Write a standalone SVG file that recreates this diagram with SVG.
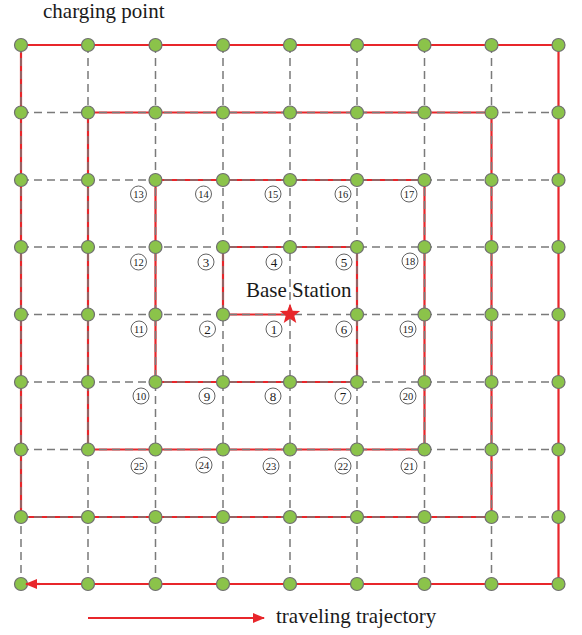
<svg xmlns="http://www.w3.org/2000/svg" width="582" height="635" viewBox="0 0 582 635">
<style>
.grid{stroke:#7a7a7a;stroke-width:1.5;stroke-dasharray:8 5;fill:none}
.traj{stroke:#e8262b;stroke-width:2.2;fill:none;stroke-linejoin:miter}
.node{fill:#8bc34a;stroke:#6f6f6f;stroke-width:1.2}
.lbl{font-family:"Liberation Serif","Times New Roman",serif;fill:#1a1a1a}
.cn circle{fill:#fff;stroke:#3a3a3a;stroke-width:0.8}
.cn text{font-family:"Liberation Serif","Times New Roman",serif;fill:#1a1a1a;text-anchor:middle}
.d1{font-size:13px}
.d2{font-size:10.5px}
</style>
<defs>
<marker id="ah" markerWidth="12" markerHeight="10" refX="11" refY="5" orient="auto" markerUnits="userSpaceOnUse">
<path d="M0,0 L12,5 L0,10 Z" fill="#e8262b"/>
</marker>
</defs>
<rect width="582" height="635" fill="#fff"/>
<text class="lbl" x="43" y="18" font-size="21">charging point</text>
<g id="connectors">
<path class="traj" d="M290,314.5 H223 V247 H357 V382 H155.5 V180 H424.5 V449.5 H88 V112.5 H491.5 V517 H21 V45 H558.5 V584 H30"/>
<g id="grid">
<path class="grid" d="M21,45 V584 M88,45 V584 M155.5,45 V584 M223,45 V584 M290,45 V584 M357,45 V584 M424.5,45 V584 M491.5,45 V584"/>
<path class="grid" d="M21,112.5 H558.5 M21,180 H558.5 M21,247 H558.5 M21,314.5 H558.5 M21,382 H558.5 M21,449.5 H558.5 M21,517 H558.5"/>
</g>
</g>
<g id="nodes">
<g id="n0_0"><circle class="node" cx="21" cy="45" r="6.5"/></g>
<g id="n1_0"><circle class="node" cx="88" cy="45" r="6.5"/></g>
<g id="n2_0"><circle class="node" cx="155.5" cy="45" r="6.5"/></g>
<g id="n3_0"><circle class="node" cx="223" cy="45" r="6.5"/></g>
<g id="n4_0"><circle class="node" cx="290" cy="45" r="6.5"/></g>
<g id="n5_0"><circle class="node" cx="357" cy="45" r="6.5"/></g>
<g id="n6_0"><circle class="node" cx="424.5" cy="45" r="6.5"/></g>
<g id="n7_0"><circle class="node" cx="491.5" cy="45" r="6.5"/></g>
<g id="n8_0"><circle class="node" cx="558.5" cy="45" r="6.5"/></g>
<g id="n0_1"><circle class="node" cx="21" cy="112.5" r="6.5"/></g>
<g id="n1_1"><circle class="node" cx="88" cy="112.5" r="6.5"/></g>
<g id="n2_1"><circle class="node" cx="155.5" cy="112.5" r="6.5"/></g>
<g id="n3_1"><circle class="node" cx="223" cy="112.5" r="6.5"/></g>
<g id="n4_1"><circle class="node" cx="290" cy="112.5" r="6.5"/></g>
<g id="n5_1"><circle class="node" cx="357" cy="112.5" r="6.5"/></g>
<g id="n6_1"><circle class="node" cx="424.5" cy="112.5" r="6.5"/></g>
<g id="n7_1"><circle class="node" cx="491.5" cy="112.5" r="6.5"/></g>
<g id="n8_1"><circle class="node" cx="558.5" cy="112.5" r="6.5"/></g>
<g id="n0_2"><circle class="node" cx="21" cy="180" r="6.5"/></g>
<g id="n1_2"><circle class="node" cx="88" cy="180" r="6.5"/></g>
<g id="n2_2"><circle class="node" cx="155.5" cy="180" r="6.5"/></g>
<g id="n3_2"><circle class="node" cx="223" cy="180" r="6.5"/></g>
<g id="n4_2"><circle class="node" cx="290" cy="180" r="6.5"/></g>
<g id="n5_2"><circle class="node" cx="357" cy="180" r="6.5"/></g>
<g id="n6_2"><circle class="node" cx="424.5" cy="180" r="6.5"/></g>
<g id="n7_2"><circle class="node" cx="491.5" cy="180" r="6.5"/></g>
<g id="n8_2"><circle class="node" cx="558.5" cy="180" r="6.5"/></g>
<g id="n0_3"><circle class="node" cx="21" cy="247" r="6.5"/></g>
<g id="n1_3"><circle class="node" cx="88" cy="247" r="6.5"/></g>
<g id="n2_3"><circle class="node" cx="155.5" cy="247" r="6.5"/></g>
<g id="n3_3"><circle class="node" cx="223" cy="247" r="6.5"/></g>
<g id="n4_3"><circle class="node" cx="290" cy="247" r="6.5"/></g>
<g id="n5_3"><circle class="node" cx="357" cy="247" r="6.5"/></g>
<g id="n6_3"><circle class="node" cx="424.5" cy="247" r="6.5"/></g>
<g id="n7_3"><circle class="node" cx="491.5" cy="247" r="6.5"/></g>
<g id="n8_3"><circle class="node" cx="558.5" cy="247" r="6.5"/></g>
<g id="n0_4"><circle class="node" cx="21" cy="314.5" r="6.5"/></g>
<g id="n1_4"><circle class="node" cx="88" cy="314.5" r="6.5"/></g>
<g id="n2_4"><circle class="node" cx="155.5" cy="314.5" r="6.5"/></g>
<g id="n3_4"><circle class="node" cx="223" cy="314.5" r="6.5"/></g>
<g id="base_station"><polygon points="290,303.5 292.7,310.7 300.2,311 294.3,315.7 296.3,323 290,318.8 283.7,323 285.7,315.7 279.8,311 287.3,310.7" fill="#e8262b"/><text class="lbl" x="246" y="297" font-size="21">Base Station</text></g>
<g id="n5_4"><circle class="node" cx="357" cy="314.5" r="6.5"/></g>
<g id="n6_4"><circle class="node" cx="424.5" cy="314.5" r="6.5"/></g>
<g id="n7_4"><circle class="node" cx="491.5" cy="314.5" r="6.5"/></g>
<g id="n8_4"><circle class="node" cx="558.5" cy="314.5" r="6.5"/></g>
<g id="n0_5"><circle class="node" cx="21" cy="382" r="6.5"/></g>
<g id="n1_5"><circle class="node" cx="88" cy="382" r="6.5"/></g>
<g id="n2_5"><circle class="node" cx="155.5" cy="382" r="6.5"/></g>
<g id="n3_5"><circle class="node" cx="223" cy="382" r="6.5"/></g>
<g id="n4_5"><circle class="node" cx="290" cy="382" r="6.5"/></g>
<g id="n5_5"><circle class="node" cx="357" cy="382" r="6.5"/></g>
<g id="n6_5"><circle class="node" cx="424.5" cy="382" r="6.5"/></g>
<g id="n7_5"><circle class="node" cx="491.5" cy="382" r="6.5"/></g>
<g id="n8_5"><circle class="node" cx="558.5" cy="382" r="6.5"/></g>
<g id="n0_6"><circle class="node" cx="21" cy="449.5" r="6.5"/></g>
<g id="n1_6"><circle class="node" cx="88" cy="449.5" r="6.5"/></g>
<g id="n2_6"><circle class="node" cx="155.5" cy="449.5" r="6.5"/></g>
<g id="n3_6"><circle class="node" cx="223" cy="449.5" r="6.5"/></g>
<g id="n4_6"><circle class="node" cx="290" cy="449.5" r="6.5"/></g>
<g id="n5_6"><circle class="node" cx="357" cy="449.5" r="6.5"/></g>
<g id="n6_6"><circle class="node" cx="424.5" cy="449.5" r="6.5"/></g>
<g id="n7_6"><circle class="node" cx="491.5" cy="449.5" r="6.5"/></g>
<g id="n8_6"><circle class="node" cx="558.5" cy="449.5" r="6.5"/></g>
<g id="n0_7"><circle class="node" cx="21" cy="517" r="6.5"/></g>
<g id="n1_7"><circle class="node" cx="88" cy="517" r="6.5"/></g>
<g id="n2_7"><circle class="node" cx="155.5" cy="517" r="6.5"/></g>
<g id="n3_7"><circle class="node" cx="223" cy="517" r="6.5"/></g>
<g id="n4_7"><circle class="node" cx="290" cy="517" r="6.5"/></g>
<g id="n5_7"><circle class="node" cx="357" cy="517" r="6.5"/></g>
<g id="n6_7"><circle class="node" cx="424.5" cy="517" r="6.5"/></g>
<g id="n7_7"><circle class="node" cx="491.5" cy="517" r="6.5"/></g>
<g id="n8_7"><circle class="node" cx="558.5" cy="517" r="6.5"/></g>
<g id="n0_8"><circle class="node" cx="21" cy="584" r="6.5"/></g>
<g id="n1_8"><circle class="node" cx="88" cy="584" r="6.5"/></g>
<g id="n2_8"><circle class="node" cx="155.5" cy="584" r="6.5"/></g>
<g id="n3_8"><circle class="node" cx="223" cy="584" r="6.5"/></g>
<g id="n4_8"><circle class="node" cx="290" cy="584" r="6.5"/></g>
<g id="n5_8"><circle class="node" cx="357" cy="584" r="6.5"/></g>
<g id="n6_8"><circle class="node" cx="424.5" cy="584" r="6.5"/></g>
<g id="n7_8"><circle class="node" cx="491.5" cy="584" r="6.5"/></g>
<g id="n8_8"><circle class="node" cx="558.5" cy="584" r="6.5"/></g>
</g>
<g id="arrow_tip">
<path class="traj" d="M40,584 H26" marker-end="url(#ah)"/>
</g>
<g id="order_labels" class="cn">
<g><circle cx="274" cy="329" r="8"/><text class="d1" x="274" y="333.5">1</text></g>
<g><circle cx="207.5" cy="329" r="8"/><text class="d1" x="207.5" y="333.5">2</text></g>
<g><circle cx="206" cy="262" r="8"/><text class="d1" x="206" y="266.5">3</text></g>
<g><circle cx="274" cy="262" r="8"/><text class="d1" x="274" y="266.5">4</text></g>
<g><circle cx="344" cy="262" r="8"/><text class="d1" x="344" y="266.5">5</text></g>
<g><circle cx="344" cy="329" r="8"/><text class="d1" x="344" y="333.5">6</text></g>
<g><circle cx="343" cy="396" r="8"/><text class="d1" x="343" y="400.5">7</text></g>
<g><circle cx="273" cy="396" r="8"/><text class="d1" x="273" y="400.5">8</text></g>
<g><circle cx="207" cy="396" r="8"/><text class="d1" x="207" y="400.5">9</text></g>
<g><circle cx="141" cy="396" r="8"/><text class="d2" x="141" y="399.8">10</text></g>
<g><circle cx="139" cy="329" r="8"/><text class="d2" x="139" y="332.8">11</text></g>
<g><circle cx="138.5" cy="262" r="8"/><text class="d2" x="138.5" y="265.8">12</text></g>
<g><circle cx="138.5" cy="194" r="8"/><text class="d2" x="138.5" y="197.8">13</text></g>
<g><circle cx="203.5" cy="194" r="8"/><text class="d2" x="203.5" y="197.8">14</text></g>
<g><circle cx="273" cy="194" r="8"/><text class="d2" x="273" y="197.8">15</text></g>
<g><circle cx="343" cy="194" r="8"/><text class="d2" x="343" y="197.8">16</text></g>
<g><circle cx="409" cy="194" r="8"/><text class="d2" x="409" y="197.8">17</text></g>
<g><circle cx="410" cy="261" r="8"/><text class="d2" x="410" y="264.8">18</text></g>
<g><circle cx="408" cy="329" r="8"/><text class="d2" x="408" y="332.8">19</text></g>
<g><circle cx="408" cy="396" r="8"/><text class="d2" x="408" y="399.8">20</text></g>
<g><circle cx="409" cy="466" r="8"/><text class="d2" x="409" y="469.8">21</text></g>
<g><circle cx="343" cy="466" r="8"/><text class="d2" x="343" y="469.8">22</text></g>
<g><circle cx="271" cy="466" r="8"/><text class="d2" x="271" y="469.8">23</text></g>
<g><circle cx="204" cy="465" r="8"/><text class="d2" x="204" y="468.8">24</text></g>
<g><circle cx="139" cy="466" r="8"/><text class="d2" x="139" y="469.8">25</text></g>
</g>
<g id="legend">
<path class="traj" d="M88,618 H264" marker-end="url(#ah)"/>
<text class="lbl" x="276" y="623" font-size="21">traveling trajectory</text>
</g>
</svg>
